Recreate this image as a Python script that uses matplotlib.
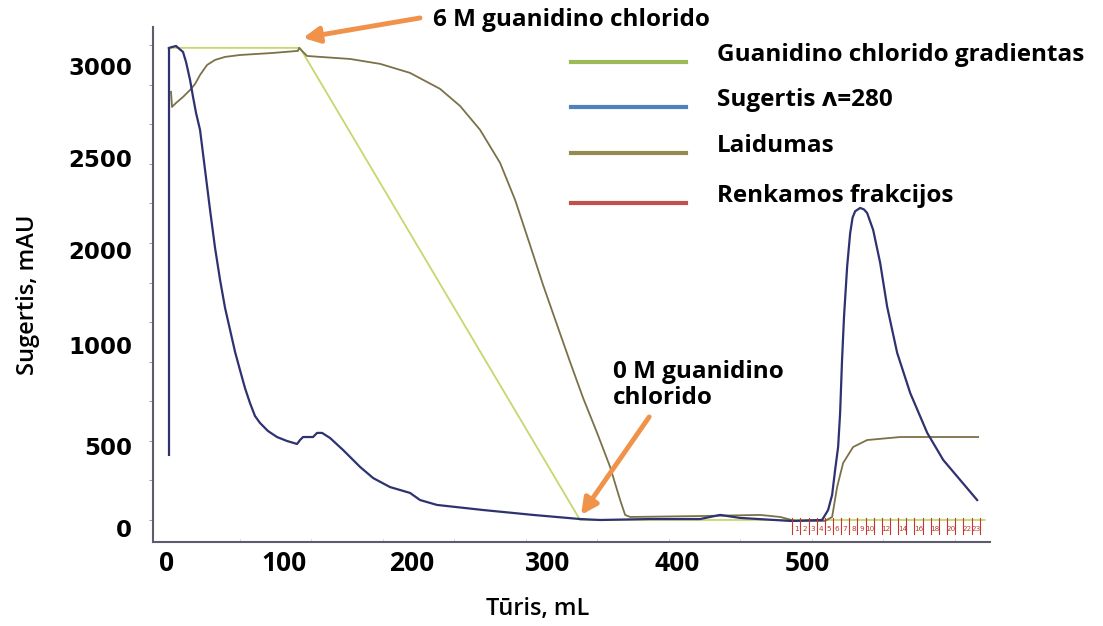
import matplotlib.pyplot as plt
from matplotlib.lines import Line2D

# volume (mL) / signal (mAU)
abs_x = [0.7, 0.7, 5.6, 10.5, 12.6, 15.4, 17.5, 19.6, 22.4, 25.9, 29.4, 32.9, 36.4,
         39.9, 43.4, 46.9, 50.3, 53.8, 57.3, 60.8, 64.3, 69.9, 76.2, 83.2, 90.2,
         92.3, 94.4, 101.4, 104.2, 107.7, 113.3, 122.4, 134.3, 143.4, 155.2, 169.2,
         176.2, 188.1, 220.3, 255.2, 288.1, 302.1, 337.1, 372.0, 386.0, 400.0, 435.0,
         457.3, 461.5, 464.3, 466.4, 468.5, 469.9, 471.2, 472.6, 474.8, 476.9, 478.6,
         480.4, 483.9, 486.5, 488.8, 493.0, 497.9, 502.8, 509.8, 518.9, 530.8, 542.0,
         553.8, 565.7]
abs_y = [411, 2982, 2994, 2956, 2893, 2780, 2672, 2571, 2464, 2211, 1958, 1718, 1516,
         1339, 1200, 1061, 948, 834, 739, 657, 613, 562, 524, 499, 480,
         505, 524, 524, 550, 550, 518, 442, 335, 265, 208, 171,
         126, 95, 63, 32, 6, 0, 6, 6, 32, 13, -6,
         0, 63, 158, 316, 461, 676, 1000, 1280, 1600, 1810, 1910,
         1950, 1971, 1962, 1939, 1832, 1624, 1346, 1055, 802, 550, 379,
         253, 126]

cond_x = [2.1, 2.8, 5.6, 10.5, 15.4, 18.9, 22.4, 27.3, 32.9, 39.9, 50.3, 73.4, 90.9,
          91.6, 97.2, 106.3, 127.3, 148.3, 169.2, 190.2, 204.2, 218.2, 232.2, 242.7,
          253.1, 262.2, 272.0, 281.1, 290.2, 300.0, 309.1, 316.1, 319.6, 323.1, 372.0,
          414.0, 428.0, 438.5, 459.4, 464.3, 467.8, 472.0, 479.0, 488.8, 511.9, 566.4]
cond_y = [2704, 2609, 2634, 2672, 2716, 2754, 2811, 2874, 2906, 2925, 2937, 2950, 2963,
          2982, 2931, 2925, 2912, 2881, 2824, 2723, 2615, 2464, 2255, 2021,
          1737, 1485, 1232, 998, 771, 550, 335, 126, 32, 19, 25,
          32, 19, -6, -6, 19, 208, 360, 461, 505, 524, 524]

grad_x = [0, 92.3, 288.1, 571]
grad_y = [2982, 2982, 0, 0]

frac_edges = [436.4, 442.1, 447.8, 453.5, 459.2, 464.9, 470.6, 476.3, 482.0, 487.7,
              493.4, 499.1, 504.8, 510.5, 516.2, 521.9, 527.6, 533.3, 539.0, 544.7,
              550.4, 556.1, 561.8, 567.5]
frac_labels = ["1", "2", "3", "4", "5", "6", "7", "8", "9", "10", "", "12", "", "14",
               "", "16", "", "18", "", "20", "", "22", "23"]

ytick_pos = [-51, 467, 1105, 1706, 2287, 2868]
ytick_labels = ["0", "500", "1000", "2000", "2500", "3000"]
xtick_pos = [-0.7, 81.1, 170.6, 265.7, 355.9, 446.9]
xtick_labels = ["0", "100", "200", "300", "400", "500"]

legend_names = ["Guanidino chlorido gradientas", "Sugertis \u028c=280", "Laidumas",
                "Renkamos frakcijos"]
legend_colors = ["#9bbb59", "#4f81bd", "#948a54", "#c0504d"]

FONT = ["Open Sans", "DejaVu Sans"]

fig = plt.figure(figsize=(11.03, 6.26), dpi=100)
ax = fig.add_axes([0.1387, 0.1342, 0.759, 0.8227])

ax.plot(grad_x, grad_y, color="#c5d86d", lw=1.3, zorder=2)
ax.plot(cond_x, cond_y, color="#7b7148", lw=1.3, zorder=3)
ax.plot(abs_x, abs_y, color="#2e3270", lw=1.6, zorder=4)

# fraction marks
for e in frac_edges:
    ax.plot([e, e], [13, -88], color="#c0392b", lw=0.8, zorder=5)
for i, lab in enumerate(frac_labels):
    xc = (frac_edges[i] + frac_edges[i + 1]) / 2
    ax.text(xc, -60, lab, color="#c0392b", fontsize=5.2, ha="center", va="center",
            family="Liberation Sans Narrow")

ax.set_xlim(-10.5, 574.8)
ax.set_ylim(-139, 3114)

for s in ["top", "right"]:
    ax.spines[s].set_visible(False)
for s in ["left", "bottom"]:
    ax.spines[s].set_color("#5c5c6e")
    ax.spines[s].set_linewidth(1.5)

ax.set_yticks(ytick_pos, ytick_labels)
ax.set_xticks(xtick_pos, xtick_labels)
ax.tick_params(axis="y", length=0, pad=15, labelsize=16.5)
ax.tick_params(axis="x", length=0, pad=6, labelsize=19)
for t in ax.get_yticklabels():
    t.set_fontweight("bold")
    t.set_family("DejaVu Sans")
for t in ax.get_xticklabels():
    t.set_fontweight("bold")
    t.set_family(FONT)

ax.set_yticks(range(0, 3001, 250), minor=True)
ax.set_xticks(range(50, 551, 50), minor=True)
ax.tick_params(axis="y", which="minor", length=3, color="#8a8a96", direction="out")
ax.tick_params(axis="x", which="minor", length=2, color="#c8c8cc", direction="in")

fig.text(0.025, 1 - 295 / 626, "Sugertis, mAU", rotation=90, ha="center", va="center",
         fontsize=17, family=FONT, fontweight="semibold")
fig.text(538 / 1103, 1 - 609 / 626, "T\u016bris, mL", ha="center", va="center",
         fontsize=17, family=FONT, fontweight="semibold")

# arrows with notes
arrow = dict(arrowstyle="-|>", color="#f0924a", lw=3.5, mutation_scale=24,
             shrinkA=0, shrinkB=0)
ax.annotate("", xy=(94.4, 3045), xytext=(176.2, 3171), arrowprops=arrow,
            annotation_clip=False)
ax.text(185.3, 3159, "6 M guanidino chlorido", fontsize=17.5, fontweight="bold",
        family=FONT, va="center", ha="left", clip_on=False)
ax.annotate("", xy=(288.8, 32), xytext=(336.4, 651), arrowprops=arrow)
ax.text(311.2, 853, "0 M guanidino\nchlorido", fontsize=17.5, fontweight="bold",
        family=FONT, va="center", ha="left", linespacing=1.15)

# legend drawn by hand, like the original slide
leg_y = [62, 107, 153, 203]
for name, col, yy in zip(legend_names, legend_colors, leg_y):
    fy = 1 - yy / 626
    fig.add_artist(Line2D([571 / 1103, 686 / 1103], [fy, fy], color=col, lw=3,
                          transform=fig.transFigure))
    fig.text(717 / 1103, fy + 7 / 626, name, fontsize=17.5, fontweight="bold",
             family=FONT, va="center", ha="left")

fig.savefig("out.png", dpi=100)
